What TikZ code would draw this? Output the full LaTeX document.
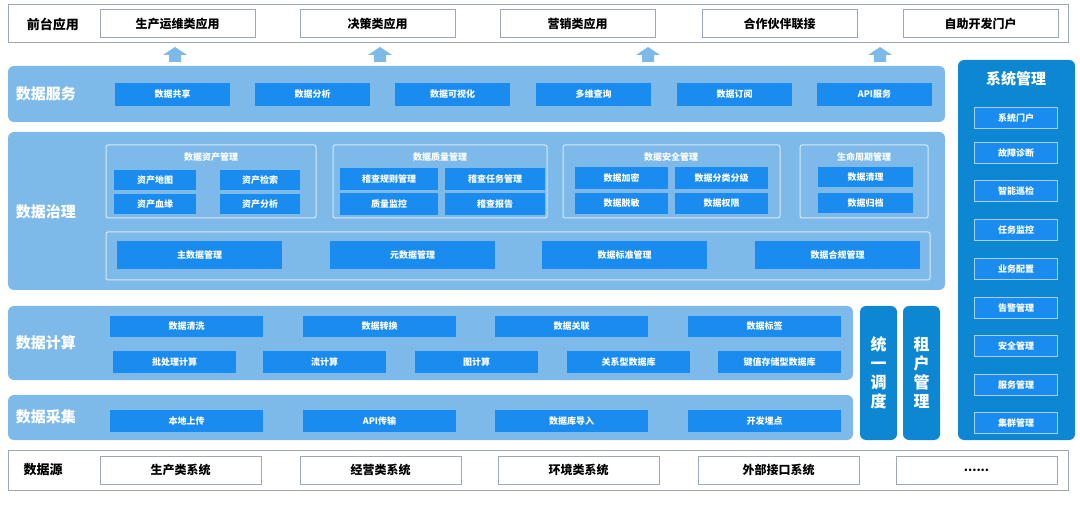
\documentclass[tikz,border=0pt]{standalone}
\usepackage{fontspec}
\setmainfont{Noto Sans CJK SC}
\usetikzlibrary{positioning}
\definecolor{band}{HTML}{7DB9E9}
\definecolor{cell}{HTML}{1A8CF0}
\definecolor{deep}{HTML}{0E87D2}
\definecolor{frame}{HTML}{9AA8B8}

\begin{document}
\begin{tikzpicture}[x=1pt,y=-1pt,font=\bfseries,
  band/.style={fill=band,rounded corners=6pt,draw=none},
  deepband/.style={fill=deep,rounded corners=6pt,draw=none},
  cellbox/.style={fill=cell,text=white,font=\bfseries\fontsize{9}{10}\selectfont,inner sep=0pt},
  whitebox/.style={fill=white,draw=frame,line width=1pt,font=\bfseries\fontsize{12}{13}\selectfont,inner sep=0pt},
  group/.style={draw=white!70!band,line width=1pt,rounded corners=2pt},
  title/.style={text=white,font=\bfseries\fontsize{15}{16}\selectfont},
  uparrow/.style={fill=band,draw=none}]
\useasboundingbox (0,0) rectangle (1080,505);
\newcommand{\cellat}[6]{% name, x1, y1, x2, y2, text
  \node[cellbox,minimum width={#4-#2},minimum height={#5-#3}] (#1) at ({(#2+#4)/2},{(#3+#5)/2}) {#6};}
\newcommand{\wboxat}[6]{%
  \node[whitebox,minimum width={#4-#2},minimum height={#5-#3}] (#1) at ({(#2+#4)/2},{(#3+#5)/2}) {#6};}

% front applications
\draw[frame,line width=1pt] (8,5) rectangle (1068,43);
\node[font=\bfseries\fontsize{13}{14}\selectfont] (front) at (53,24) {前台应用};
\foreach \i/\a/\t in {1/100/生产运维类应用,2/300/决策类应用,3/500/营销类应用,4/702/合作伙伴联接,5/903/自助开发门户}
  {\wboxat{app\i}{\a}{10}{\a+155}{38}{\t}}
\foreach \x in {175,380,648,880}
  \fill[uparrow] (\x-6,62) -- (\x-6,55) -- (\x-12,55) -- (\x,47) -- (\x+12,55) -- (\x+6,55) -- (\x+6,62) -- cycle;

% data services
\fill[band] (8,66) rectangle (945,122);
\node[title] (svc) at (46,94) {数据服务};
\foreach \i/\a/\t in {1/115/数据共享,2/255/数据分析,3/395/数据可视化,4/536/多维查询,5/677/数据订阅,6/817/API服务}
  {\cellat{svc\i}{\a}{83}{\a+115}{106}{\t}}

% data governance
\fill[band] (8,132) rectangle (945,290);
\node[title] (gov) at (46,212) {数据治理};
\draw[group] (106,145) rectangle (316,218);
\node[text=white,font=\bfseries\fontsize{9}{10}\selectfont] (g1) at (211,157) {数据资产管理};
\cellat{g1a}{114}{170}{196}{190}{资产地图}
\cellat{g1b}{220}{170}{300}{190}{资产检索}
\cellat{g1c}{114}{194}{196}{214}{资产血缘}
\cellat{g1d}{220}{194}{300}{214}{资产分析}
\draw[group] (333,145) rectangle (547,218);
\node[text=white,font=\bfseries\fontsize{9}{10}\selectfont] (g2) at (440,157) {数据质量管理};
\cellat{g2a}{340}{168}{438}{190}{稽查规则管理}
\cellat{g2b}{445}{168}{545}{190}{稽查任务管理}
\cellat{g2c}{340}{193}{438}{215}{质量监控}
\cellat{g2d}{445}{193}{545}{215}{稽查报告}
\draw[group] (563,145) rectangle (780,218);
\node[text=white,font=\bfseries\fontsize{9}{10}\selectfont] (g3) at (671,157) {数据安全管理};
\cellat{g3a}{575}{167}{668}{189}{数据加密}
\cellat{g3b}{675}{167}{768}{189}{数据分类分级}
\cellat{g3c}{575}{193}{668}{214}{数据脱敏}
\cellat{g3d}{675}{193}{768}{214}{数据权限}
\draw[group] (800,145) rectangle (928,218);
\node[text=white,font=\bfseries\fontsize{9}{10}\selectfont] (g4) at (864,157) {生命周期管理};
\cellat{g4a}{818}{167}{913}{187}{数据清理}
\cellat{g4b}{818}{193}{913}{213}{数据归档}
\draw[group] (106,232) rectangle (930,280);
\foreach \i/\a/\t in {1/117/主数据管理,2/330/元数据管理,3/542/数据标准管理,4/755/数据合规管理}
  {\cellat{gm\i}{\a}{241}{\a+165}{269}{\t}}

% data computing
\fill[band] (8,306) rectangle (853,380);
\node[title] (cmp) at (46,343) {数据计算};
\foreach \i/\a/\t in {1/110/数据清洗,2/303/数据转换,3/495/数据关联,4/688/数据标签}
  {\cellat{ca\i}{\a}{316}{\a+153}{337}{\t}}
\foreach \i/\a/\t in {1/113/批处理计算,2/263/流计算,3/415/图计算,4/567/关系型数据库,5/718/键值存储型数据库}
  {\cellat{cb\i}{\a}{351}{\a+123}{373}{\t}}

% data collection
\fill[band] (8,395) rectangle (853,440);
\node[title] (col) at (46,417) {数据采集};
\foreach \i/\a/\t in {1/110/本地上传,2/303/API传输,3/495/数据库导入,4/688/开发埋点}
  {\cellat{co\i}{\a}{410}{\a+153}{432}{\t}}

% scheduling and tenants
\fill[deepband] (860,306) rectangle (897,440);
\node[title,align=center,font=\bfseries\fontsize{16}{19}\selectfont] (sched) at (878.5,373) {统\\一\\调\\度};
\fill[deepband] (903,306) rectangle (940,440);
\node[title,align=center,font=\bfseries\fontsize{16}{19}\selectfont] (tenant) at (921.5,373) {租\\户\\管\\理};

% system management
\fill[deepband] (958,60) rectangle (1075,440);
\node[title] (sys) at (1016,79) {系统管理};
\foreach \i/\y/\t in {1/118/系统门户,2/153/故障诊断,3/191/智能巡检,4/230/任务监控,5/269/业务配置,6/308/告警管理,7/346/安全管理,8/385/服务管理,9/423/集群管理}
  \node[cellbox,draw=white!60!cell,line width=0.8pt,minimum width=83,minimum height=21] (sys\i) at (1016,\y) {\t};

% data sources
\draw[frame,line width=1pt] (8,450) rectangle (1068,490);
\node[font=\bfseries\fontsize{13}{14}\selectfont] (src) at (43,470) {数据源};
\foreach \i/\a/\t in {1/100/生产类系统,2/300/经营类系统,3/498/环境类系统,4/698/外部接口系统}
  {\wboxat{src\i}{\a}{456}{\a+161}{484}{\t}}
\wboxat{src5}{896}{456}{1057}{484}{......}
\end{tikzpicture}
\end{document}
